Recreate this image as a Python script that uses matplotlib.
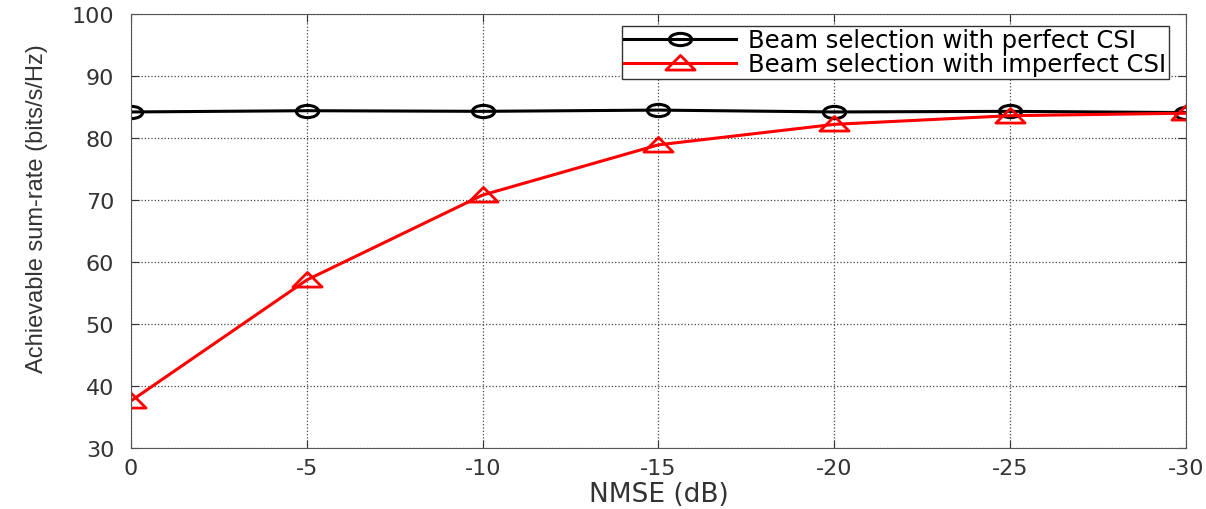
import matplotlib
matplotlib.use('Agg')
import matplotlib.pyplot as plt
from matplotlib.path import Path

# 数据
nmse = [0, -5, -10, -15, -20, -25, -30]
perfect = [84.2, 84.4, 84.3, 84.5, 84.2, 84.3, 84.1]
imperfect = [37.6, 57.1, 70.8, 78.9, 82.2, 83.6, 84.0]
yticks = [30, 40, 50, 60, 70, 80, 90, 100]

plt.rcParams['font.family'] = ['DejaVu Sans']

# 横向拉伸的标记 (原图被横向拉伸)
circ = Path.unit_circle()
ell = Path(circ.vertices * [1.0, 0.55], circ.codes)
tri = Path([(-1, -0.45), (1, -0.45), (0, 0.55), (-1, -0.45)],
           [Path.MOVETO, Path.LINETO, Path.LINETO, Path.CLOSEPOLY])

fig = plt.figure(figsize=(12.06, 5.1), dpi=100)
ax = fig.add_axes([0.1086, 0.1196, 0.8748, 0.851])

ax.plot(nmse, perfect, color='k', lw=2.2, marker=ell, ms=16, mfc='none', mew=2.2,
        label='Beam selection with perfect CSI')
ax.plot(nmse, imperfect, color='r', lw=2.2, marker=tri, ms=21, mfc='none', mew=2,
        label='Beam selection with imperfect CSI')

ax.set_xlim(0, -30)  # x轴反向
ax.set_ylim(30, 100)
ax.set_xticks(nmse)
ax.set_xticklabels([str(v) for v in nmse])
ax.set_yticks(yticks)
ax.tick_params(direction='in', top=True, right=True, labelsize=16, colors='#333333', length=6)
ax.tick_params(axis='x', pad=7)
ax.tick_params(axis='y', pad=12)
ax.grid(True, linestyle=':', color='#444444', lw=0.9)
for s in ax.spines.values():
    s.set_color('#555555')

ax.set_xlabel('NMSE (dB)', fontsize=19, color='#333333', labelpad=2)
ax.set_ylabel('Achievable sum-rate (bits/s/Hz)', fontsize=17, color='#333333',
              family='Liberation Sans')
ax.yaxis.set_label_coords(-0.079, 0.555)

leg = ax.legend(loc='upper right', fontsize=17.5, fancybox=False, framealpha=1,
                edgecolor='#333333', borderpad=0.1, labelspacing=0.0, handlelength=4.6,
                handletextpad=0.5, borderaxespad=0.0, bbox_to_anchor=(0.9835, 0.973))
leg.get_frame().set_linewidth(1)

fig.savefig('out.png', dpi=100)
